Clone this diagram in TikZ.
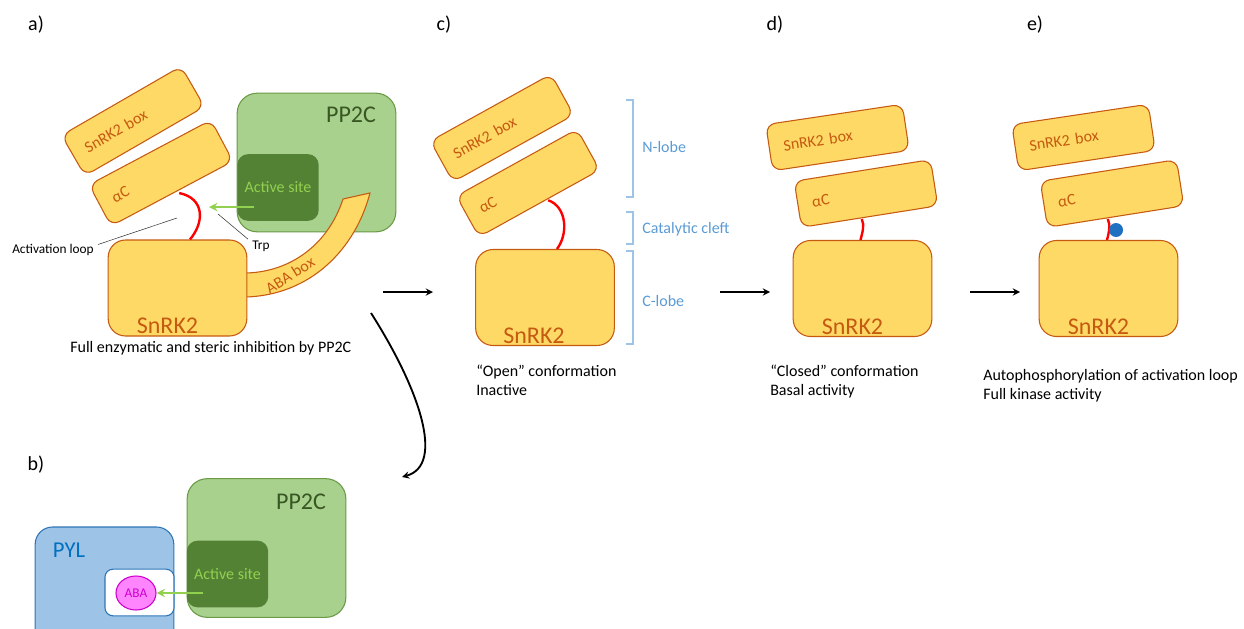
\documentclass[tikz,border=0pt]{standalone}
\usepackage{fontspec}
\setmainfont{Carlito}
\usetikzlibrary{calc, shapes.geometric}
\definecolor{snfill}{HTML}{FFD966}
\definecolor{snline}{HTML}{C55A11}
\definecolor{ppfill}{HTML}{A9D18E}
\definecolor{ppline}{HTML}{6A9A45}
\definecolor{pptext}{HTML}{385723}
\definecolor{sitefill}{HTML}{548235}
\definecolor{sitetext}{HTML}{92D050}
\definecolor{pylfill}{HTML}{9DC3E6}
\definecolor{pylline}{HTML}{2E75B6}
\definecolor{pyltext}{HTML}{0070C0}
\definecolor{abafill}{HTML}{FF85FF}
\definecolor{abaline}{HTML}{CC00CC}
\definecolor{brkline}{HTML}{9DC3E6}
\definecolor{brktext}{HTML}{5B9BD5}
\definecolor{phos}{HTML}{1F70C1}
\begin{document}
\begin{tikzpicture}[>=stealth, x=0.75pt, y=-0.75pt,
    kinase/.style={draw=snline, fill=snfill, line width=0.8pt, rounded corners=13pt, minimum width=104pt, minimum height=72pt},
    lobe/.style={draw=snline, fill=snfill, line width=0.8pt, rounded corners=7pt, minimum width=103.5pt, minimum height=35pt,
        text width=82pt, align=left, inner xsep=10pt, text=snline, font=\fontsize{12}{14}\selectfont},
    bigtxt/.style={anchor=base, inner sep=0pt, text=snline, font=\fontsize{18}{20}\selectfont},
    pp/.style={draw=ppline, fill=ppfill, line width=0.8pt, rounded corners=15pt, minimum width=119pt, minimum height=104pt},
    pptxt/.style={anchor=base, inner sep=0pt, text=pptext, font=\fontsize{18}{20}\selectfont},
    site/.style={fill=sitefill, rounded corners=8pt, minimum width=61pt, minimum height=50pt, text=sitetext, font=\fontsize{12}{14}\selectfont},
    aloop/.style={draw=red, line width=1.8pt},
    trp/.style={draw=sitetext, line width=1.8pt, -{stealth}},
    flow/.style={->, line width=1.4pt},
    tag/.style={inner sep=0pt, font=\fontsize{15}{18}\selectfont},
    captxt/.style={anchor=north west, inner sep=0pt, align=left, font=\fontsize{12}{14.2}\selectfont},
    note/.style={anchor=base west, inner sep=0pt, font=\fontsize{10}{12}\selectfont},
    noteline/.style={draw=black!80, line width=0.4pt},
    brk/.style={draw=brkline, line width=0.8pt},
    brktxt/.style={anchor=base west, inner sep=0pt, text=brktext, font=\fontsize{12}{14}\selectfont}]
    \useasboundingbox (0,0) rectangle (1244,628);

    % panel labels
    \node[tag] (la) at (36,25) {a)};
    \node[tag] (lb) at (36,465) {b)};
    \node[tag] (lc) at (444,25) {c)};
    \node[tag] (ld) at (775,25) {d)};
    \node[tag] (le) at (1035,25) {e)};

    % a) PP2C
    \node[pp] (pa) at (316.5,162.5) {};
    \node[pptxt] (pat) at (351,122) {PP2C};
    \node[site] (sa) at (278,187.5) {Active site};

    % a) ABA box
    \draw[snline, fill=snfill, line width=0.8pt] (240,273) -- (246,273)
        .. controls (290,272) and (328,245) .. (343,199) -- (370,193)
        .. controls (355,250) and (310,295) .. (246,297) -- (240,297) -- cycle;
    \node[text=snline, font=\fontsize{12}{14}\selectfont, rotate=32] (abat) at (290,275) {ABA box};

    % a) SnRK2
    \node[lobe, rotate=30] (na) at (133,121) {SnRK2 box};
    \node[lobe, rotate=28] (ca) at (161,173) {αC};
    \node[kinase] (ka) at (177.5,288) {};
    \node[bigtxt] (kat) at ($(ka.south)+(-10,-3)$) {SnRK2};
    \draw[aloop] ($(ca.south)+(7,-1)$) .. controls +(25,5) and +(15,-18) .. ($(ka.north)+(12.5,0)$);

    % a) Trp
    \coordinate (tw) at (209,207);
    \draw[trp] ($(sa.west)+(17,19.5)$) -- (tw);

    % a) notes
    \node[note] (al) at (12,253) {Activation loop};
    \coordinate (alp) at (177,218);
    \draw[noteline] ($(al.north east)+(4,1)$) -- (alp);
    \node[note] (tp) at (252,249) {Trp};
    \coordinate (tpp) at (218,214);
    \draw[noteline] ($(tp.north west)+(-4,-1)$) -- (tpp);
    \node[captxt, anchor=base west] (capa) at (70,352) {Full enzymatic and steric inhibition by PP2C};

    % arrows
    \coordinate (f1) at (383,292);
    \coordinate (t1) at (433,292);
    \draw[flow] (f1) -- (t1);
    \coordinate (f2) at (371,313);
    \coordinate (t2) at (402,477);
    \draw[flow] (f2) .. controls (420,390) and (445,465) .. (t2);
    \coordinate (f3) at (720,292);
    \coordinate (t3) at (770,292);
    \draw[flow] (f3) -- (t3);
    \coordinate (f4) at (970,292);
    \coordinate (t4) at (1020,292);
    \draw[flow] (f4) -- (t4);

    % b) PP2C and PYL
    \node[pp] (pb) at (266.5,548) {};
    \node[pptxt] (pbt) at (301,509) {PP2C};
    \node[site] (sb) at (227.5,574) {Active site};
    \node[draw=pylline, fill=pylfill, line width=0.8pt, rounded corners=13pt, minimum width=104pt, minimum height=96pt] (py) at (104.5,591) {};
    \node[anchor=base, inner sep=0pt, text=pyltext, font=\fontsize{17}{20}\selectfont] (pyt) at (69,557) {PYL};
    \node[draw=pylline, fill=white, line width=0.8pt, rounded corners=6pt, minimum width=51.75pt, minimum height=35pt] (pk) at (139.5,592.5) {};
    \node[ellipse, draw=abaline, fill=abafill, line width=0.8pt, minimum width=30pt, minimum height=25.5pt, inner sep=0pt,
        text=abaline, font=\fontsize{10}{12}\selectfont] (aba) at (136,593) {ABA};
    \draw[trp] ($(sb.west)+(16,19)$) -- (aba.east);

    % c) open conformation
    \node[lobe, rotate=29] (nc) at (502,128) {SnRK2 box};
    \node[lobe, rotate=29] (cc) at (528,183) {αC};
    \node[kinase] (kc) at (545,297.5) {};
    \node[bigtxt] (kct) at ($(kc.south)+(-11,-3)$) {SnRK2};
    \draw[aloop] ($(cc.south)+(8.6,-3.6)$) .. controls +(18,6) and +(12,-16) .. ($(kc.north)+(12,0)$);
    \node[captxt] (capc) at (476,365) {“Open” conformation\\Inactive};

    % c) lobes
    \draw[brk] (626,100) -- (633,100) -- (633,197) -- (626,197);
    \node[brktxt] (nl) at (642,152) {N-lobe};
    \draw[brk] (626,212) -- (633,212) -- (633,244) -- (626,244);
    \node[brktxt] (cl) at (642,233) {Catalytic cleft};
    \draw[brk] (626,251) -- (633,251) -- (633,344) -- (626,344);
    \node[brktxt] (kl) at (642,306) {C-lobe};

    % d) closed conformation
    \node[lobe, rotate=8.5] (nd) at (837.5,137.5) {SnRK2 box};
    \node[lobe, rotate=9] (cd) at (866,193.5) {αC};
    \node[kinase] (kd) at (862.5,288.5) {};
    \node[bigtxt] (kdt) at ($(kd.south)+(-10,-3)$) {SnRK2};
    \draw[aloop] ($(cd.south)+(-8,2)$) .. controls +(3,6) and +(2,-8) .. ($(kd.north)+(-2,0)$);
    \node[captxt] (capd) at (770,365) {“Closed” conformation\\Basal activity};

    % e) full activity
    \node[lobe, rotate=8.5] (ne) at (1083.5,137.5) {SnRK2 box};
    \node[lobe, rotate=9] (ce) at (1112,193.5) {αC};
    \node[kinase] (ke) at (1108.5,288.5) {};
    \node[bigtxt] (ket) at ($(ke.south)+(-10,-3)$) {SnRK2};
    \draw[aloop] ($(ce.south)+(-8,2)$) .. controls +(3,6) and +(2,-8) .. ($(ke.north)+(-1.5,0)$);
    \node[circle, fill=phos, minimum size=10.5pt, inner sep=0pt] (ph) at (1116,230) {};
    \node[captxt] (cape) at (983,369) {Autophosphorylation of activation loop\\Full kinase activity};
\end{tikzpicture}
\end{document}
